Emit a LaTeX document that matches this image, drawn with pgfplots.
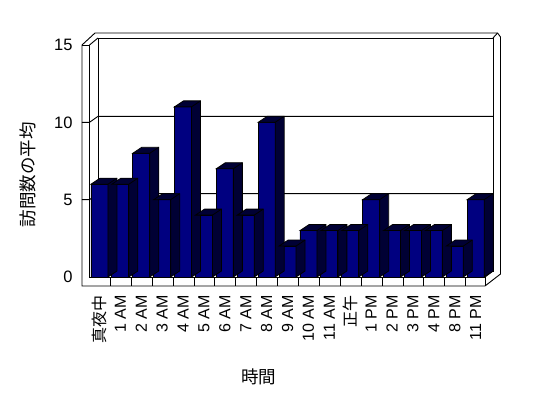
\documentclass[border=0pt]{standalone}
\usepackage{fontspec}
\setmainfont{Liberation Sans}
\newfontfamily\cjk{Noto Sans CJK JP}
\usepackage{pgfplots}
\usepackage{pgfplotstable}
\pgfplotsset{compat=1.18}
\definecolor{barfront}{RGB}{0,0,128}
\definecolor{barside}{RGB}{0,0,52}

\pgfplotstableread{
x v
0 6
1 6
2 8
3 5
4 11
5 4
6 7
7 4
8 10
9 2
10 3
11 3
12 3
13 5
14 3
15 3
16 3
17 2
18 5
}\datatable

\pgfdeclareplotmark{bardepth}{%
  \pgfmathsetmacro\hh{\val*15.4667}%
  \pgfmathsetmacro\hb{6-\val*15.4667}%
  \pgfpathmoveto{\pgfpoint{-8.5pt}{0pt}}%
  \pgfpathlineto{\pgfpoint{8.5pt}{0pt}}%
  \pgfpathlineto{\pgfpoint{8.5pt}{-\hh pt}}%
  \pgfpathlineto{\pgfpoint{17.5pt}{\hb pt}}%
  \pgfpathlineto{\pgfpoint{17.5pt}{6pt}}%
  \pgfpathlineto{\pgfpoint{0.5pt}{6pt}}%
  \pgfpathclose
  \pgfusepathqfillstroke
  \pgfpathmoveto{\pgfpoint{8.5pt}{0pt}}%
  \pgfpathlineto{\pgfpoint{17.5pt}{6pt}}%
  \pgfusepathqstroke
}

\begin{document}
\begin{tikzpicture}
\useasboundingbox (-89pt,-121pt) rectangle (459pt,277pt);
% 3D frame in pixel coordinates
\begin{scope}[x=1pt, y=-1pt, shift={(-89pt,277pt)}, line width=0.9pt]
  \draw (82,45) -- (82,286) -- (485,286) -- (500.5,274) -- (500.5,37) -- (497.5,33) -- (95,33) -- cycle;
  \draw (82,45) -- (89.5,45) -- (89.5,277) -- (485,277) -- (485,286);
  \draw (485,277) -- (493,271);
  \draw (98,271) -- (98,38) -- (493,38) -- (493,271) -- cycle;
  \draw (89.5,45) -- (98,38);
  \draw (493,38) -- (497.5,33);
  \foreach \pf in {199.67,122.33} {
    \draw (82,\pf) -- (89.5,\pf) -- (98,\pf-6) -- (493,\pf-6);
  }
  \foreach \k in {1,...,18} {
    \draw (89.5+20.9*\k,277) -- (89.5+20.9*\k,286);
  }
\end{scope}
\begin{axis}[
  at={(0pt,0pt)}, anchor=south west,
  x=20.9pt, y=15.4667pt,
  xmin=-0.5, xmax=18.5, ymin=0, ymax=15,
  clip=false,
  axis line style={draw=none},
  major tick length=0pt,
  ytick={0,5,10,15},
  xtick={0,...,18},
  xticklabels={{\cjk 真夜中},1 AM,2 AM,3 AM,4 AM,5 AM,6 AM,7 AM,8 AM,9 AM,10 AM,11 AM,{\cjk 正午},1 PM,2 PM,3 PM,4 PM,8 PM,11 PM},
  /pgf/number format/assume math mode=true,
  yticklabel style={font=\fontsize{16.5}{19}\selectfont, anchor=east, xshift=-13pt},
  xticklabel style={font=\fontsize{16}{19}\selectfont, rotate=90, anchor=east, xshift=-15pt},
  xlabel={\cjk 時間},
  ylabel={\cjk 訪問数の平均},
  xlabel style={font=\fontsize{17.5}{20}\selectfont, at={(axis description cs:0.428,-0.431)}, anchor=center},
  ylabel style={font=\fontsize{17.5}{20}\selectfont, at={(axis description cs:-0.154,0.44)}, anchor=center},
]
\addplot[only marks, mark=bardepth, mark options={fill=barside, draw=black, line width=0.8pt},
  visualization depends on={\thisrow{v} \as \val}] table[x=x, y=v] {\datatable};
\addplot[ybar, bar width=17pt, bar shift=0pt, fill=barfront, draw=black, line width=0.8pt] table[x=x, y=v] {\datatable};
\end{axis}
\end{tikzpicture}
\end{document}
